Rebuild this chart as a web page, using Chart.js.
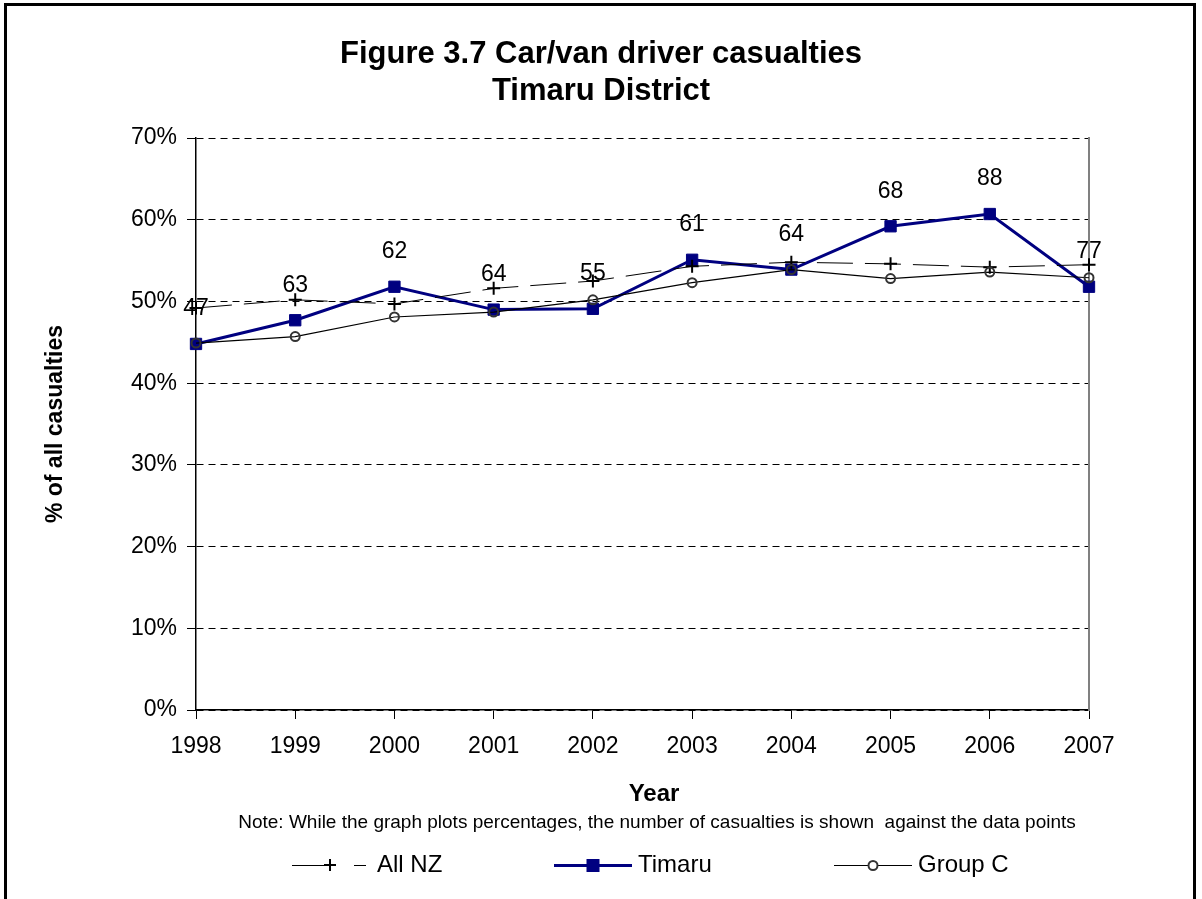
<!DOCTYPE html>
<html><head><meta charset="utf-8">
<script src="https://cdn.jsdelivr.net/npm/chart.js@4.4.1/dist/chart.umd.min.js"></script>
<style>
html,body{margin:0;padding:0;background:#fff;overflow:hidden;}
#frame{position:absolute;left:4px;top:3px;width:1186px;height:1000px;border:3px solid #000;pointer-events:none;}
canvas{position:absolute;left:0;top:0;}
</style></head><body>
<canvas id="c" width="1202" height="899"></canvas>
<div id="frame"></div>
<script>
const years = ['1998','1999','2000','2001','2002','2003','2004','2005','2006','2007'];
const allNZ  = [49.2, 50.2, 49.7, 51.6, 52.5, 54.3, 54.8, 54.6, 54.2, 54.5];
const timaru = [44.8, 47.7, 51.8, 49.0, 49.1, 55.1, 53.9, 59.2, 60.7, 51.8];
const groupC = [44.9, 45.7, 48.1, 48.7, 50.2, 52.3, 53.9, 52.8, 53.6, 52.9];
const casualtyCounts = [47, 63, 62, 64, 55, 61, 64, 68, 88, 77];
const yMin = 0, yMax = 70, yStep = 10;
const xTitle = 'Year';
const noteText = 'Note: While the graph plots percentages, the number of casualties is shown  against the data points';

const FONT = "'Liberation Sans', Arial, sans-serif";

const countLabels = {
  id: 'countLabels',
  afterDatasetsDraw(chart) {
    const meta = chart.getDatasetMeta(1);
    const ctx = chart.ctx;
    ctx.save();
    ctx.font = "23px " + FONT;
    ctx.fillStyle = '#000';
    ctx.textAlign = 'center';
    ctx.textBaseline = 'middle';
    meta.data.forEach((pt, i) => {
      ctx.fillText(String(casualtyCounts[i]), pt.x, pt.y - 35);
    });
    ctx.restore();
  }
};

const noteLegend = {
  id: 'noteLegend',
  afterDraw(chart) {
    const ctx = chart.ctx;
    ctx.save();
    ctx.fillStyle = '#000';
    ctx.textBaseline = 'middle';
    ctx.textAlign = 'center';
    ctx.font = "bold 24px " + FONT;
    ctx.fillText(xTitle, 654, 794);
    ctx.font = "19px " + FONT;
    ctx.fillText(noteText, 657, 823);

    const ly = 865;
    const lyt = ly + 0.5;
    ctx.font = "24px " + FONT;
    ctx.textAlign = 'left';
    // All NZ
    ctx.strokeStyle = '#000';
    ctx.lineWidth = 1;
    ctx.setLineDash([43, 19]);
    ctx.beginPath(); ctx.moveTo(292, lyt); ctx.lineTo(366, lyt); ctx.stroke();
    ctx.setLineDash([]);
    ctx.lineWidth = 2;
    ctx.beginPath();
    ctx.moveTo(330 - 6, ly); ctx.lineTo(330 + 6, ly);
    ctx.moveTo(330, ly - 6); ctx.lineTo(330, ly + 6);
    ctx.stroke();
    ctx.fillText('All NZ', 377, ly);
    // Timaru
    ctx.strokeStyle = '#000080';
    ctx.lineWidth = 3;
    ctx.beginPath(); ctx.moveTo(554, lyt); ctx.lineTo(632, lyt); ctx.stroke();
    ctx.fillStyle = '#000080';
    ctx.fillRect(593 - 6.5, ly - 6, 13, 13);
    ctx.fillStyle = '#000';
    ctx.fillText('Timaru', 638, ly);
    // Group C
    ctx.strokeStyle = '#000';
    ctx.lineWidth = 1;
    ctx.beginPath(); ctx.moveTo(834, lyt); ctx.lineTo(912, lyt); ctx.stroke();
    ctx.fillStyle = '#fff';
    ctx.strokeStyle = '#333';
    ctx.lineWidth = 2;
    ctx.beginPath(); ctx.arc(873, lyt, 4.5, 0, Math.PI * 2); ctx.fill(); ctx.stroke();
    ctx.fillStyle = '#000';
    ctx.fillText('Group C', 918, ly);
    ctx.restore();
  }
};

new Chart(document.getElementById('c'), {
  type: 'line',
  data: {
    labels: years,
    datasets: [
      { label: 'All NZ', data: allNZ, borderColor: '#000', borderWidth: 1, borderDash: [36, 12],
        pointStyle: 'cross', pointRadius: 6.5, pointBorderWidth: 2, pointBorderColor: '#000',
        pointBackgroundColor: '#000', tension: 0, fill: false, order: 2 },
      { label: 'Timaru', data: timaru, borderColor: '#000080', borderWidth: 3,
        pointStyle: 'rect', pointRadius: 8, pointBorderWidth: 1, pointBorderColor: '#000080',
        pointBackgroundColor: '#000080', tension: 0, fill: false, order: 3 },
      { label: 'Group C', data: groupC, borderColor: '#000', borderWidth: 1.2,
        pointStyle: 'circle', pointRadius: 4.5, pointBorderWidth: 2, pointBorderColor: '#333',
        pointBackgroundColor: 'rgba(0,0,0,0)', tension: 0, fill: false, order: 1 }
    ]
  },
  options: {
    responsive: false,
    animation: false,
    devicePixelRatio: 1,
    layout: { padding: 0 },
    plugins: {
      legend: { display: false },
      tooltip: { enabled: false },
      title: {
        display: true,
        text: ['Figure 3.7 Car/van driver casualties', 'Timaru District'],
        color: '#000',
        font: { family: FONT, size: 31, weight: 'bold', lineHeight: 1.194 },
        padding: { top: 36, bottom: 28 }
      }
    },
    scales: {
      x: {
        type: 'category',
        offset: false,
        grid: { display: true, drawOnChartArea: false, drawTicks: true, tickLength: 9, color: '#000' },
        border: { display: true, color: '#000', width: 1.5 },
        ticks: { color: '#000', font: { family: FONT, size: 23 }, padding: 14, maxRotation: 0, autoSkip: false },
        title: { display: false },
        afterFit(s) { s.height = 189; }
      },
      y: {
        min: yMin, max: yMax,
        ticks: { stepSize: yStep, color: '#000', font: { family: FONT, size: 23 }, padding: 10,
          callback: v => v + '%' },
        grid: { color: '#000', lineWidth: 1, tickLength: 9 },
        border: { display: true, color: '#000', width: 1.5, dash: [7, 5] },
        title: { display: true, text: '% of all casualties', color: '#000',
          font: { family: FONT, size: 23, weight: 'bold' }, padding: { top: 42, bottom: 0 } },
        afterFit(s) { s.width = 196; }
      },
      y2: {
        type: 'linear', position: 'right', min: yMin, max: yMax,
        grid: { display: false },
        ticks: { display: false },
        border: { display: true, color: '#808080', width: 2 },
        afterFit(s) { s.width = 113; }
      }
    }
  },
  plugins: [countLabels, noteLegend]
});
</script>
</body></html>
